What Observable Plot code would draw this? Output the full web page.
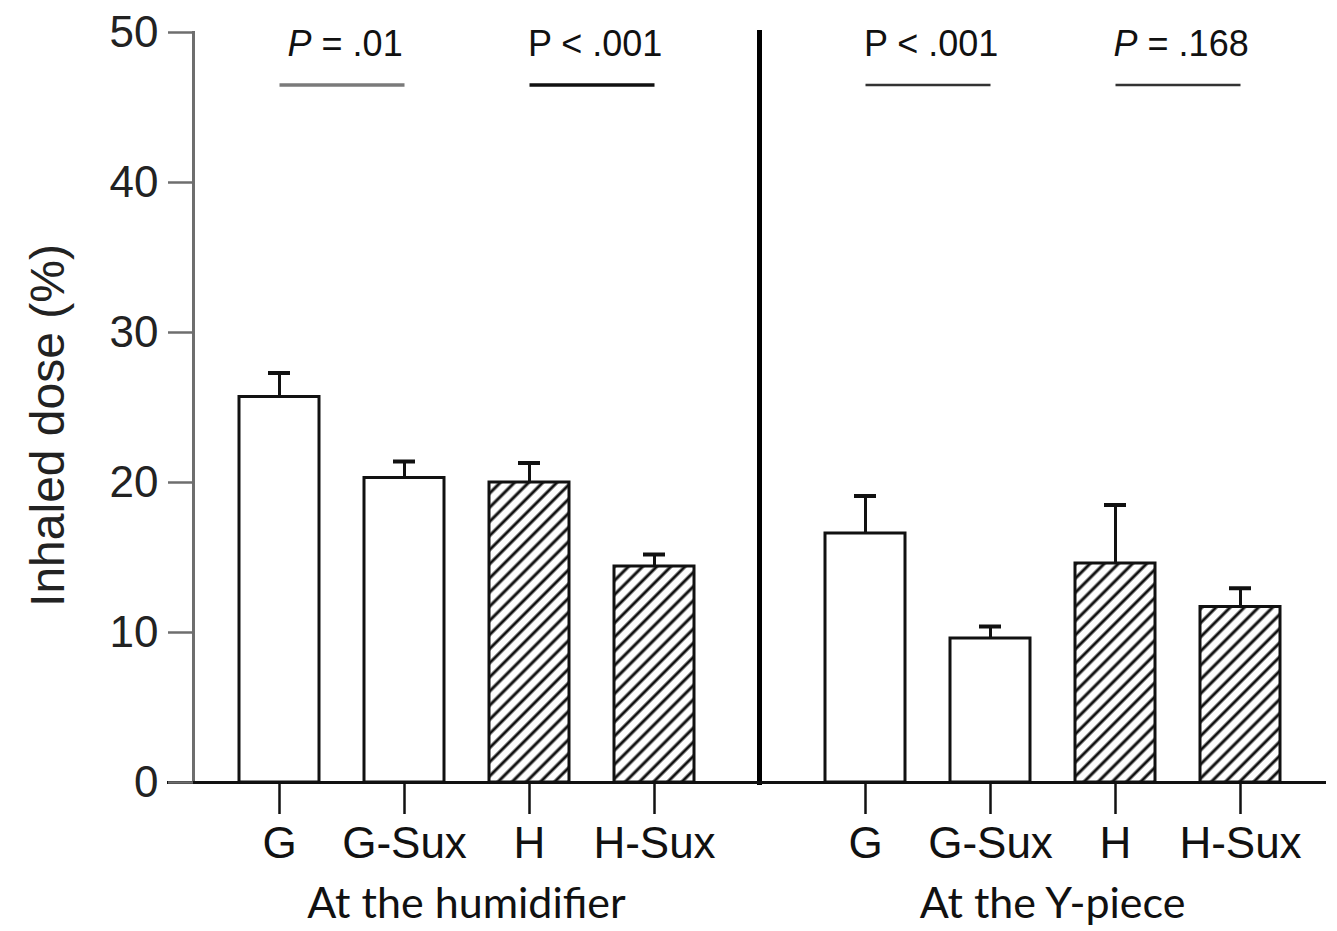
<!DOCTYPE html>
<html><head><meta charset="utf-8">
<script src="https://cdn.jsdelivr.net/npm/d3@7"></script>
<script src="https://cdn.jsdelivr.net/npm/@observablehq/plot@0.6"></script>
<style>body{margin:0;background:#fff}</style>
</head><body><div id="chart"></div>
<script>
// ---- data ----
const locations = ["At the humidifier", "At the Y-piece"];
const categories = ["G", "G-Sux", "H", "H-Sux"];
const hatchedCategories = ["H", "H-Sux"];
const humidifierMean = [25.7, 20.3, 20.0, 14.4];
const humidifierSEM = [1.6, 1.1, 1.3, 0.8];
const yPieceMean = [16.6, 9.6, 14.6, 11.7];
const yPieceSEM = [2.5, 0.8, 3.9, 1.25];
const yTicks = [0, 10, 20, 30, 40, 50];
const yLabel = "Inhaled dose (%)";
const pLocationIndex = [0, 0, 1, 1];
const pFrom = ["G", "H", "G", "H"];
const pTo = ["G-Sux", "H-Sux", "G-Sux", "H-Sux"];
const pLabels = ["P = .01", "P < .001", "P < .001", "P = .168"];
const bracketLevel = 46.5;

// ---- styles / layout ----
const W = 1337, H = 931, mL = 193, mR = 12, mT = 32, mB = 149;
const fxPadInner = 0.0683, xPad = 0.36;
const facetW = (W - mL - mR) / (2 - fxPadInner) * (1 - fxPadInner);
const xStep = facetW / (categories.length - xPad + 2 * xPad);
const bracketColors = ["#7a7a7a", "#111", "#333", "#333"];
const bracketWidths = [3.5, 3.5, 2.5, 2.5];

const means = [humidifierMean, yPieceMean];
const sems = [humidifierSEM, yPieceSEM];
const rows = locations.flatMap((loc, li) => categories.map((c, ci) => ({
  location: loc, category: c, mean: means[li][ci], upper: means[li][ci] + sems[li][ci],
  hatched: hatchedCategories.includes(c)
})));
const pData = pLabels.map((label, i) => ({
  location: locations[pLocationIndex[i]], from: pFrom[i], to: pTo[i], label
}));

const svg = Plot.plot({
  width: W, height: H,
  marginLeft: mL, marginRight: mR, marginTop: mT, marginBottom: mB,
  style: {fontFamily: "'Liberation Sans', Arial, sans-serif", background: "white", color: "#111"},
  fx: {domain: locations, paddingInner: fxPadInner, paddingOuter: 0},
  x: {domain: categories, padding: xPad},
  y: {domain: [0, 50]},
  marks: [
    // axis lines
    Plot.frame({anchor: "left", fx: locations[0], stroke: "#6e6e6e", strokeWidth: 3}),
    Plot.frame({anchor: "right", fx: locations[0], insetRight: -20, stroke: "#000", strokeWidth: 5}),
    Plot.ruleY([0], {fx: () => locations[0], insetLeft: -26, insetRight: -20, stroke: "#111", strokeWidth: 3}),
    Plot.ruleY([0], {fx: () => locations[1], insetLeft: -20, insetRight: -1, stroke: "#111", strokeWidth: 3}),
    // error bars
    Plot.ruleX(rows, {fx: "location", x: "category", y1: "mean", y2: "upper", stroke: "#111", strokeWidth: 3}),
    Plot.tickY(rows, {fx: "location", x: "category", y: "upper", insetLeft: 29, insetRight: 29, stroke: "#111", strokeWidth: 4}),
    // bars
    Plot.barY(rows.filter(d => !d.hatched), {fx: "location", x: "category", y: "mean", fill: "white", stroke: "#111", strokeWidth: 3}),
    Plot.barY(rows.filter(d => d.hatched), {fx: "location", x: "category", y: "mean", fill: "url(#hatch)", stroke: "#111", strokeWidth: 3}),
    // axes
    Plot.axisY({ticks: yTicks, tickSize: 25, tickPadding: 10, fontSize: 44, stroke: "#6e6e6e", strokeWidth: 2.5, fill: "#222", label: null}),
    Plot.axisX({tickSize: 32, tickPadding: 12, fontSize: 44, stroke: "#111", strokeWidth: 2.5, fill: "#111", label: null}),
    Plot.axisFx({anchor: "bottom", tickSize: 0, tickPadding: 105, fontSize: 43, fontFamily: "Lato", fill: "#111", label: null}),
    Plot.text([yLabel], {fx: () => locations[0], text: d => d, frameAnchor: "left", textAnchor: "middle", rotate: -90, dx: -145, dy: 18, fontSize: 48, fill: "#222"}),
    // significance brackets
    Plot.link(pData, {fx: "location", x1: "from", x2: "to", y1: bracketLevel, y2: bracketLevel,
      stroke: (d, i) => bracketColors[i], strokeWidth: (d, i) => bracketWidths[i]}),
    Plot.text(pData, {fx: "location", x: "from", y: bracketLevel, text: "label", dx: xStep / 2 + 3, dy: -29,
      lineAnchor: "bottom", fontSize: 36, fill: "#111"})
  ]
});

const ns = "http://www.w3.org/2000/svg";
const defs = document.createElementNS(ns, "defs");
defs.innerHTML = `<pattern id="hatch" patternUnits="userSpaceOnUse" width="10" height="10" patternTransform="rotate(45)"><rect width="10" height="10" fill="white"/><line x1="5" y1="-1" x2="5" y2="11" stroke="#111" stroke-width="3"/></pattern>`;
svg.prepend(defs);
svg.querySelectorAll("text").forEach(t => {
  if (t.textContent.startsWith("P =")) {
    const rest = t.textContent.slice(1);
    t.textContent = "";
    const ts = document.createElementNS(ns, "tspan");
    ts.setAttribute("font-style", "italic");
    ts.textContent = "P";
    t.append(ts, rest);
  }
});
document.getElementById("chart").append(svg);
</script>
</body></html>
